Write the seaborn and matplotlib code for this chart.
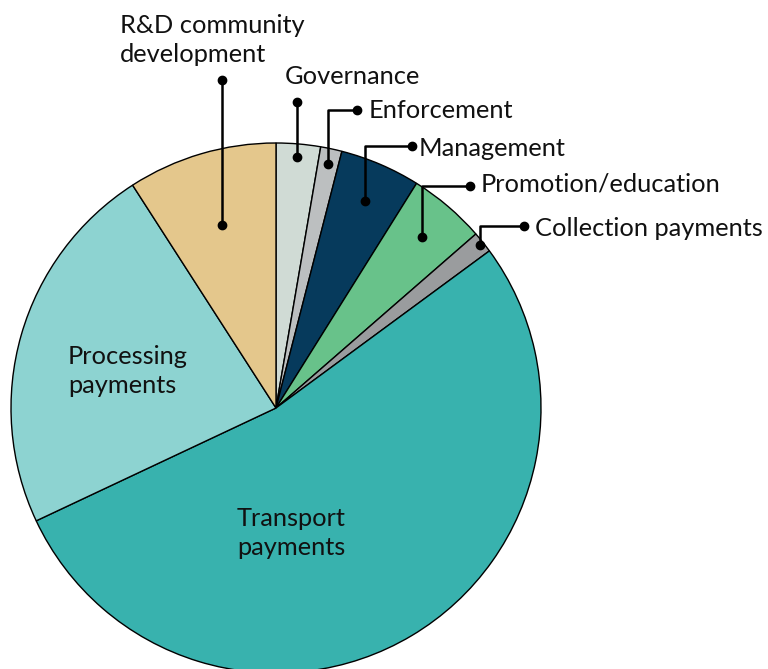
import numpy as np
import matplotlib
matplotlib.use("Agg")
import matplotlib.pyplot as plt
import seaborn as sns

# slice data, clockwise from 12 o'clock
categories = ["Governance", "Enforcement", "Management", "Promotion/education",
              "Collection payments", "Transport payments", "Processing payments",
              "R&D community development"]
shares = [2.7, 1.3, 4.9, 4.7, 1.3, 53.1, 22.9, 9.1]
colors = ["#d0dbd5", "#bcbfc0", "#063a5c", "#68c28a", "#9a9c9e",
          "#38b2ae", "#8dd3d1", "#e4c78c"]

sns.set_theme(style="white")
plt.rcParams["font.family"] = ["Lato", "DejaVu Sans"]

W, H = 768, 669
fig = plt.figure(figsize=(W / 100, H / 100), dpi=100)
ax = fig.add_axes([0, 0, 1, 1])

cx, cy, R = 276, H - 408, 265
wedges, _ = ax.pie(shares, colors=colors, startangle=90, counterclock=False,
                   center=(cx, cy), radius=R, frame=True,
                   wedgeprops=dict(edgecolor="black", linewidth=1.0))
ax.set_xlim(0, W)
ax.set_ylim(0, H)
ax.set_aspect("equal")
ax.axis("off")

# mid angle of each slice (degrees clockwise from top)
cum = np.cumsum([0] + shares)
mid = {c: (cum[i] + cum[i + 1]) / 2 / 100 * 360 for i, c in enumerate(categories)}

fs = 18.3
ls = 1.32
# callouts: (category, radius fraction, line top (px from top), elbow x or None,
#            label text, text x, text y, ha)
callouts = [
    ("Governance", 0.95, 102, None, "Governance", 352, 77, "center"),
    ("Enforcement", 0.94, 110, 357, "Enforcement", 369, 110, "left"),
    ("Management", 0.85, 146, 412, "Management", 419, 148, "left"),
    ("Promotion/education", 0.85, 186, 470, "Promotion/education", 481, 184, "left"),
    ("Collection payments", 0.985, 226, 524, "Collection payments", 535, 229, "left"),
    ("R&D community development", 0.72, 80, None, "R&D community\ndevelopment", 120, 40, "left"),
]

for cat, rf, ytop, xel, text, tx, ty, ha in callouts:
    th = np.deg2rad(mid[cat])
    x0 = cx + rf * R * np.sin(th)
    y0 = cy + rf * R * np.cos(th)
    y1 = H - ytop
    xs, ys = [x0, x0], [y0, y1]
    if xel is not None:
        xs.append(xel)
        ys.append(y1)
    ax.plot(xs, ys, color="black", lw=1.8, solid_capstyle="butt", zorder=5)
    ax.plot([xs[0], xs[-1]], [ys[0], ys[-1]], "o", color="black", ms=6, zorder=6)
    ax.text(tx, H - ty, text, ha=ha, va="center", fontsize=fs, color="#111111",
            linespacing=ls)

# labels inside the big slices
ax.text(68, H - 371, "Processing\npayments", ha="left", va="center",
        fontsize=fs, color="#111111", linespacing=ls)
ax.text(237, H - 533, "Transport\npayments", ha="left", va="center",
        fontsize=fs, color="#111111", linespacing=ls)

fig.savefig("out.png", dpi=100)
